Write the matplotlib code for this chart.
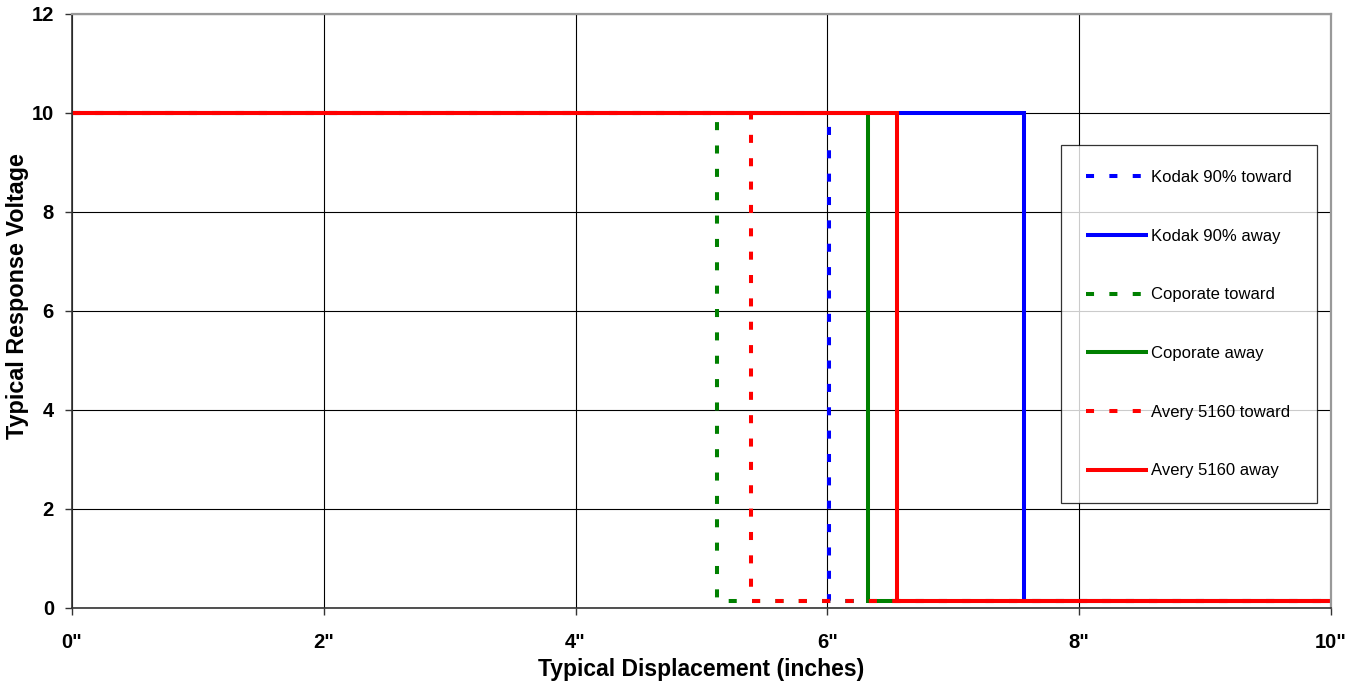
import matplotlib
matplotlib.use('Agg')
import matplotlib.pyplot as plt

plt.rcParams['font.family'] = ['Liberation Sans', 'DejaVu Sans']

# Data
# ------------------------
series_names = ['Kodak 90% toward', 'Kodak 90% away',
                'Coporate toward', 'Coporate away',
                'Avery 5160 toward', 'Avery 5160 away']
series_colors = ['#0000ff', '#0000ff', '#008000', '#008000', '#ff0000', '#ff0000']
series_dashed = [True, False, True, False, True, False]
# displacement (inches) where the output drops from high to low
switch_points = [6.01, 7.56, 5.12, 6.32, 5.39, 6.55]
high_level = 10.0
low_level = 0.15
x_start, x_end = 0.0, 10.0

x_ticks = [0, 2, 4, 6, 8, 10]
x_tick_labels = ['0"', '2"', '4"', '6"', '8"', '10"']
y_ticks = [0, 2, 4, 6, 8, 10, 12]

# Draw figure
# -----------
fig = plt.figure(figsize=(13.64, 6.93), dpi=100)
ax = fig.add_axes([0.0528, 0.1227, 0.9230, 0.8571])

for name, col, dashed, sw in zip(series_names, series_colors, series_dashed, switch_points):
    xs = [x_start, sw, sw, x_end]
    ys = [high_level, high_level, low_level, low_level]
    line, = ax.plot(xs, ys, color=col, linewidth=2.9, label=name,
                    solid_joinstyle='miter', solid_capstyle='butt')
    if dashed:
        line.set_dashes([2.0, 3.8])

ax.set_xlim(0, 10)
ax.set_ylim(0, 12)
ax.set_xticks(x_ticks)
ax.set_xticklabels(x_tick_labels)
ax.set_yticks(y_ticks)
ax.grid(True, color='black', linewidth=0.8)
ax.set_axisbelow(True)
for s in ['top', 'right']:
    ax.spines[s].set_color('#999999')
    ax.spines[s].set_linewidth(1.6)
for s in ['left', 'bottom']:
    ax.spines[s].set_color('#333333')
    ax.spines[s].set_linewidth(1.2)

ax.tick_params(axis='both', direction='out', length=5, width=1, color='#333333',
               labelsize=14.5)
ax.tick_params(axis='x', pad=13)
ax.tick_params(axis='y', pad=8)
for lab in ax.get_xticklabels() + ax.get_yticklabels():
    lab.set_fontweight('bold')

ax.set_xlabel('Typical Displacement (inches)', fontsize=16.5, fontweight='bold', labelpad=4)
ax.set_ylabel('Typical Response Voltage', fontsize=16.8, fontweight='bold')
ax.yaxis.set_label_coords(-0.034, 0.525)

leg = ax.legend(loc='upper left', bbox_to_anchor=(1061 / 1364, 1 - 145 / 693),
                bbox_transform=fig.transFigure, fontsize=12, frameon=True,
                fancybox=False, edgecolor='black', handlelength=3.7,
                handletextpad=0.2, labelspacing=2.62, borderpad=1.5,
                borderaxespad=0)
leg.get_frame().set_linewidth(0.9)

plt.savefig('out.png', dpi=100, facecolor='w')
